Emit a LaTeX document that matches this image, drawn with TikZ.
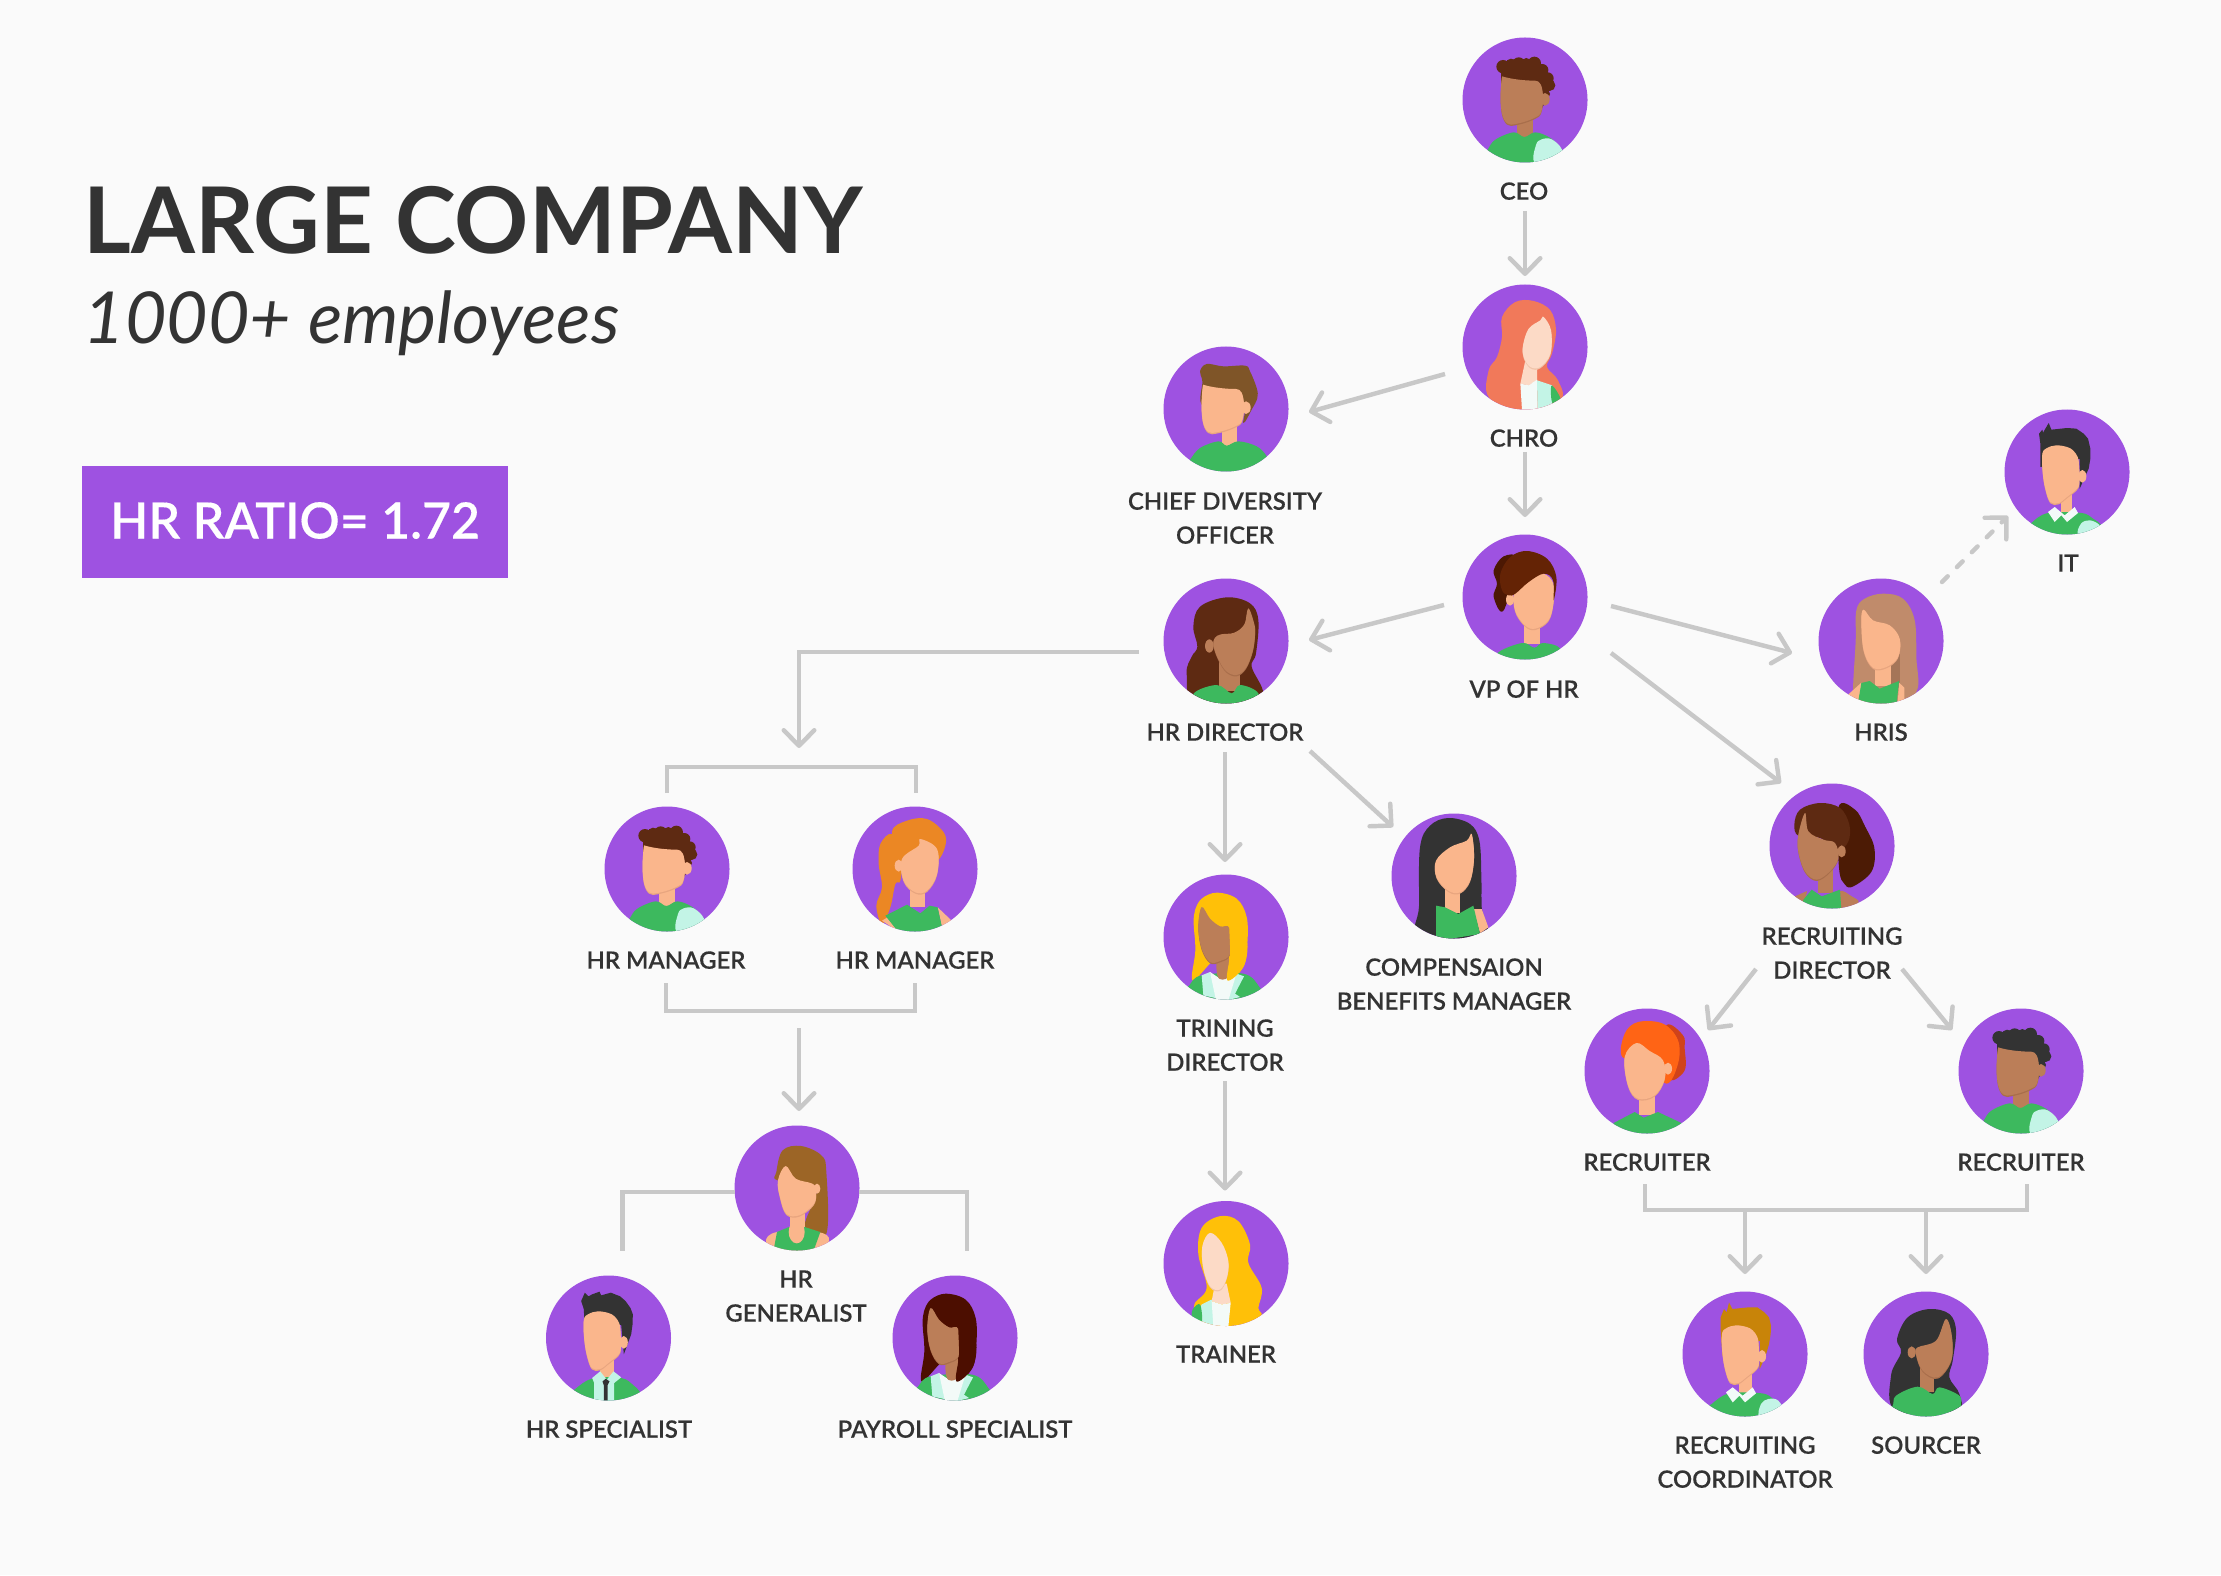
\documentclass[tikz,border=0pt]{standalone}
\usepackage{fontspec}
\setmainfont{Lato}
\newfontfamily\lmed[FakeBold=0.25]{Lato Semibold}
\usetikzlibrary{arrows.meta,calc}
\definecolor{bgc}{HTML}{FAFAFA}
\definecolor{purp}{HTML}{9E52E1}
\definecolor{grn}{HTML}{3DB95E}
\definecolor{mint}{HTML}{C3F4E6}
\definecolor{wht}{HTML}{F3FAF8}
\definecolor{ink}{HTML}{333333}
\definecolor{line}{HTML}{C8C8C8}
\definecolor{sk}{HTML}{FAB68C}
\definecolor{skS}{HTML}{E8A57F}
\definecolor{dk}{HTML}{BB7E58}
\definecolor{dkS}{HTML}{A86E4B}
\definecolor{pl}{HTML}{FCDAC6}
\definecolor{plS}{HTML}{F0C4AA}
\definecolor{chest}{HTML}{5E2A12}
\definecolor{coralh}{HTML}{F1795A}
\definecolor{hairb}{HTML}{7F5528}
\definecolor{bunc}{HTML}{4C1803}
\definecolor{vph}{HTML}{642305}
\definecolor{hrish}{HTML}{C08B6B}
\definecolor{hrisd}{HTML}{A57558}
\definecolor{gold}{HTML}{FFC008}
\definecolor{orh}{HTML}{EB8724}
\definecolor{hgen}{HTML}{9C6526}
\definecolor{payh}{HTML}{4C0E00}
\definecolor{ponyd}{HTML}{4C1B05}
\definecolor{orgd}{HTML}{D0431A}
\definecolor{orgh}{HTML}{FF6415}
\definecolor{hcoord}{HTML}{C88409}
\newcommand\blob[2]{\fill[#1] plot[smooth cycle,tension=.6] coordinates {#2};}
\newcommand\poly[2]{\fill[#1] plot[sharp cycle] coordinates {#2};}
\newcommand\fc[3]{\fill[#2,shift={(0,4)}] plot[smooth cycle,tension=.6] coordinates {#3};\fill[#1] plot[smooth cycle,tension=.6] coordinates {#3};}
% male face template: ear on the right
\newcommand\mface[2]{%
 \fill[#2,shift={(0,4)}] (-69,-71) .. controls (-40,-62) and (0,-58) .. (30,-58) .. controls (45,-58) and (52,-45) .. (54,-10) .. controls (54,20) and (50,40) .. (42,46) .. controls (20,60) and (-10,70) .. (-42,74) .. controls (-60,74) and (-70,50) .. (-72,20) .. controls (-75,-10) and (-72,-50) .. (-69,-71) -- cycle;
 \fill[#1] (-69,-71) .. controls (-40,-62) and (0,-58) .. (30,-58) .. controls (45,-58) and (52,-45) .. (54,-10) .. controls (54,20) and (50,40) .. (42,46) .. controls (20,60) and (-10,70) .. (-42,74) .. controls (-60,74) and (-70,50) .. (-72,20) .. controls (-75,-10) and (-72,-50) .. (-69,-71) -- cycle;
 \fill[#1] (60,-2) ellipse (14 and 19);}
% second male face: arched hairline
\newcommand\mfaceb{%
 \fc{sk}{skS}{(-74,-55)(-60,-72)(-32,-80)(0,-75)(18,-65)(32,-45)(36,-20)(37,30)(30,50)(0,75)(-25,93)(-50,90)(-65,50)(-73,0)}
 \fill[sk] (46,13) ellipse (12 and 19);}
\newcommand\mshirt{\blob{grn}{(-125,175)(-112,149)(-89,119)(-34,97)(-2,111)(31,97)(76,114)(111,149)(125,175)(0,210)}}
\newcommand\msleeve{\blob{mint}{(31,190)(33,135)(50,118)(80,118)(111,149)(115,200)}}
\newcommand\curly[1]{%
 \poly{#1}{(-72,-20)(-72,-105)(-40,-122)(28,-122)(72,-60)(64,0)(42,40)(30,-20)}
 \fill[#1] (-66,-100) circle (20) (-19,-108) circle (20) (28,-110) circle (20) (52,-90) circle (18) (68,-65) circle (18) (74,-44) circle (17) (60,-18) circle (15) (50,5) circle (13) (-42,-108) circle (16) (4,-110) circle (16);}
\newcommand\collar[1]{\poly{wht}{(-57,120)(-37,105)(-7,130)(23,105)(33,123)(0,150)(-17,130)(-37,150)}}
\newcommand\bobwoman[1]{%
 \blob{#1}{(-101,130)(-92,40)(-97,-40)(-93,-80)(-73,-115)(-28,-133)(32,-115)(62,-60)(64,20)(52,90)(4,130)(-20,60)(-48,80)}
 \blob{grn}{(-125,175)(-110,145)(-73,115)(52,110)(100,150)(110,190)(0,215)}
 \poly{mint}{(-73,115)(-48,105)(-23,185)(-68,175)}
 \poly{mint}{(32,110)(54,118)(27,170)(42,180)(2,190)(7,120)}
 \poly{wht}{(-48,105)(-18,125)(7,120)(32,108)(7,190)(-30,190)}
 \blob{dk}{(-26,60)(7,60)(7,115)(-10,128)(-26,115)}
 \fc{dk}{dkS}{(-73,-90)(-48,-55)(-18,-32)(10,-27)(12,50)(-18,72)(-48,75)(-73,35)(-83,-30)}
 \blob{#1}{(10,-27)(14,-30)(40,-30)(64,20)(52,90)(4,130)(12,50)}
 }
\newcommand\personav[4]{\node[av] (#1) at (#2,#3) {};\begin{scope}[shift={(#1.center)},scale=1/3]\clip (0,0) circle (187.5);#4\end{scope}}
\tikzset{
 av/.style={circle,fill=purp,inner sep=0pt,minimum size=45pt},
 lab/.style={inner sep=0pt,align=center,text=ink,yshift=-.4pt,font=\lmed\fontsize{8.6}{12.24}\selectfont},
 conn/.style={draw=line,line width=1.6pt},
 arr/.style={conn,-{Straight Barb[length=5.6pt,width=11pt,round]}}
}
\begin{document}
\begin{tikzpicture}[x=.36pt,y=-.36pt]
\useasboundingbox (0,0) rectangle (2221,1575);
\fill[bgc] (0,0) rectangle (2221,1575);
\node[anchor=base west,inner sep=0pt,text=ink,font=\bfseries\fontsize{33.1}{40}\selectfont] (title) at (83,254) {LARGE COMPANY};
\node[anchor=base west,inner sep=0pt,text=ink,font=\itshape\fontsize{25.8}{30}\selectfont] (sub) at (83,344) {1000+ employees};
\node[inner sep=0pt,fill=purp,minimum width=153.4pt,minimum height=40.3pt,text=white,font=\lmed\fontsize{18}{20}\selectfont] (ratio) at (295,522) {\raisebox{1.2pt}{HR RATIO= 1.72}};

\personav{ceo}{1525}{100}{%
 \poly{dk}{(-24,50)(23,50)(23,110)(-24,110)}\mshirt\msleeve\curly{chest}\mface{dk}{dkS}}
\personav{chro}{1525}{347}{%
 \blob{coralh}{(-109,70)(-84,30)(-69,-30)(-69,-90)(-29,-135)(26,-138)(76,-110)(93,-50)(81,20)(66,60)(99,100)(106,160)(-14,195)(-109,150)}
 \poly{pl}{(1,40)(36,40)(36,100)(11,115)(-14,110)}
 \poly{wht}{(-14,110)(11,115)(36,98)(38,190)(-9,190)}
 \poly{mint}{(36,100)(81,115)(81,170)(38,190)}
 \blob{grn}{(81,115)(106,155)(85,172)(78,145)}
 \fc{pl}{plS}{(-6,-5)(11,-55)(46,-80)(56,-90)(78,-50)(76,20)(46,60)(16,60)(-4,30)}}
\personav{chief}{1226}{409}{%
 \poly{sk}{(-13,50)(33,50)(33,110)(-13,110)}
 \blob{grn}{(-125,175)(-108,152)(-78,117)(-23,97)(2,110)(37,97)(92,112)(122,142)(130,175)(0,210)}
 \blob{hairb}{(-78,-113)(-58,-135)(-8,-128)(57,-130)(72,-113)(92,-63)(94,-33)(77,2)(52,42)(47,-8)(-68,-8)(-71,-83)}
 \begin{scope}[shift={(0,-2)}]\mface{sk}{skS}\end{scope}}
\personav{vp}{1525}{597}{%
 \blob{bunc}{(-94,-80)(-64,-122)(-24,-110)(-64,40)(-94,0)(-84,-40)}
 \poly{sk}{(-4,60)(44,60)(44,140)(-4,140)}
 \blob{grn}{(-84,170)(-9,138)(28,152)(54,138)(106,155)(100,210)(-60,210)}
 \fc{sk}{skS}{(-30,-20)(15,-55)(55,-70)(85,-40)(85,20)(70,70)(31,95)(0,85)(-30,40)}
 \fill[sk] (-45,8) ellipse (12 and 18);
 \blob{vph}{(-74,-70)(-44,-120)(6,-138)(66,-115)(94,-60)(86,10)(84,-50)(56,-70)(11,-45)(-29,-10)(-49,-5)(-69,-20)}}
\personav{hrd}{1226}{641}{%
 \blob{chest}{(-98,-43)(-78,-103)(2,-131)(72,-113)(97,-63)(90,37)(77,77)(110,147)(100,190)(-90,190)(-118,97)(-103,47)(-86,17)}
 \poly{dk}{(-21,60)(42,60)(42,150)(-21,150)}
 \blob{grn}{(-98,159)(-28,132)(17,157)(42,132)(97,157)(90,215)(-80,215)}
 \fc{dk}{dkS}{(-33,-10)(-15,-20)(25,-25)(55,-50)(67,-98)(85,-50)(87,-20)(80,30)(60,80)(32,102)(0,90)(-25,50)(-38,10)}
 \fill[dk] (-50,15) ellipse (13 and 20);}
\personav{hris}{1881}{641}{%
 \blob{hrish}{(-84,158)(-76,0)(-74,-92)(-49,-127)(6,-142)(66,-127)(101,-62)(106,50)(108,148)(46,190)(-70,180)}
 \fill[hrisd] (25,40) rectangle (58,140);
 \poly{sk}{(-19,60)(31,60)(31,135)(-19,135)}
 \poly{sk}{(-100,162)(-59,125)(-50,185)}
 \poly{sk}{(54,125)(70,140)(70,190)(50,190)}
 \poly{grn}{(-59,126)(-34,120)(-4,143)(54,120)(46,195)(-69,185)}
 \fc{sk}{skS}{(-59,-62)(-52,-94)(-24,-62)(26,-47)(56,-7)(51,48)(16,78)(-24,80)(-52,28)}}
\personav{it}{2067}{472}{%
 \poly{sk}{(-17,60)(15,60)(15,125)(-17,125)}
 \blob{grn}{(-125,180)(-107,153)(-57,123)(43,123)(78,140)(103,160)(110,190)(0,215)}
 \blob{mint}{(36,190)(42,155)(68,145)(98,160)(110,195)}
 \collar{}
 \poly{ink}{(-84,-115)(-74,-127)(-72,-118)(-55,-147)(-47,-127)(0,-132)(28,-130)(50,-115)(63,-100)(70,-70)(70,-40)(65,-10)(58,5)(38,50)(38,-40)(-80,-15)(-80,-85)}
 \mfaceb}
\personav{comp}{1454}{876}{%
 \blob{ink}{(-102,-86)(-72,-151)(-17,-174)(48,-156)(76,-106)(82,0)(83,94)(90,190)(-107,190)(-105,90)}
 \poly{sk}{(58,99)(83,99)(103,154)(78,172)}
 \poly{sk}{(-27,30)(18,30)(18,110)(-27,110)}
 \poly{grn}{(-54,89)(-27,94)(13,114)(58,89)(78,174)(-54,195)}
 \fc{sk}{skS}{(-54,-46)(-12,-86)(38,-106)(53,-126)(60,-56)(48,14)(18,49)(-17,44)(-52,4)}}
\personav{trin}{1226}{937}{\bobwoman{gold}}
\personav{trainer}{1226}{1263.5}{%
 \blob{gold}{(-95,123)(-58,73)(-83,-27)(-73,-107)(-18,-142)(37,-127)(72,-57)(67,-2)(107,73)(97,133)(102,158)(7,195)(-80,170)}
 \poly{pl}{(-33,60)(2,60)(14,118)(-13,123)(-43,113)}
 \poly{mint}{(-43,108)(-33,190)(-98,170)(-73,123)}
 \poly{wht}{(-43,113)(-13,123)(14,118)(7,190)(-38,190)}
 \blob{grn}{(-78,123)(-73,175)(-100,165)(-100,138)}
 \fc{pl}{plS}{(-71,-52)(-48,-92)(-13,-62)(7,-7)(2,43)(-18,78)(-48,68)(-68,13)}}
\personav{m1}{667}{869}{%
 \poly{sk}{(-24,50)(23,50)(23,110)(-24,110)}\mshirt\msleeve\curly{chest}\mface{sk}{skS}}
\personav{m2}{915}{869}{%
 \blob{orh}{(-69,-105)(-104,-75)(-109,-15)(-99,55)(-116,110)(-99,165)(-74,115)(-59,45)(-44,35)(-40,-40)}
 \blob{orh}{(-69,-110)(-24,-145)(36,-150)(86,-110)(91,-70)(66,-25)(20,-40)(-30,-10)}
 \poly{sk}{(-14,31)(31,31)(31,115)(-14,115)}
 \poly{sk}{(-99,155)(-74,140)(-47,190)}
 \poly{sk}{(68,115)(110,155)(81,175)}
 \poly{grn}{(-89,140)(-24,107)(16,133)(44,110)(68,115)(81,175)(40,195)(-49,190)}
 \fc{sk}{skS}{(-39,-30)(11,-70)(16,-90)(66,-60)(66,15)(36,65)(1,70)(-34,35)}
 \fill[sk] (-49,-10) ellipse (12 and 18);}
\personav{gen}{797}{1188}{%
 \blob{hgen}{(-62,-48)(-43,-113)(12,-126)(73,-98)(88,-48)(88,137)(23,117)(57,-3)(-58,-23)}
 \poly{sk}{(-21,40)(23,40)(23,125)(-21,125)}
 \blob{sk}{(-93,162)(-60,132)(62,132)(96,157)(50,205)(-50,205)}
 \poly{grn}{(-60,132)(-24,117)(23,117)(70,132)(49,190)(-71,190)}
 \fill[sk] (-1,132) ellipse (24 and 34);
 \fc{sk}{skS}{(-57,-23)(-34,-66)(-4,-28)(46,-13)(57,7)(51,47)(7,82)(-32,77)(-51,27)}
 \fill[sk] (60,2) ellipse (10 and 15);}
\personav{spec}{608.5}{1338}{%
 \poly{sk}{(-27,40)(15,40)(15,120)(-27,120)}
 \blob{grn}{(-125,180)(-101,154)(-49,122)(38,120)(75,142)(97,165)(110,190)(0,215)}
 \poly{mint}{(-49,120)(-25,100)(-5,125)(15,100)(38,118)(17,135)(17,200)(-43,200)(-43,135)}
 \poly{ink}{(-18,130)(-8,122)(3,130)(-3,142)(-3,200)(-14,200)(-14,142)}
 \poly{ink}{(-82,-111)(-71,-136)(-60,-125)(-49,-131)(-27,-139)(-22,-128)(7,-136)(35,-125)(51,-111)(66,-90)(73,-71)(72,-40)(68,-11)(46,49)(38,-40)(-71,-11)(-74,-86)}
 \mfaceb}
\personav{pay}{955}{1338}{\bobwoman{payh}}
\personav{recd}{1832}{846}{%
 \blob{ponyd}{(19,-116)(69,-109)(99,-59)(127,6)(119,76)(64,121)(39,116)(21,66)}
 \poly{dk}{(-41,60)(4,60)(4,140)(-41,140)}
 \poly{dk}{(-111,151)(-75,135)(-86,195)}
 \blob{dk}{(24,136)(59,151)(79,170)(24,195)}
 \poly{grn}{(-86,161)(-61,131)(-31,151)(24,131)(28,195)(-90,195)}
 \blob{chest}{(-113,-64)(-96,-109)(-36,-129)(24,-114)(52,-64)(49,-14)(19,11)(-36,-24)(-100,-30)}
 \fc{dk}{dkS}{(-101,-34)(-81,-99)(-71,-44)(-26,-19)(9,-9)(19,36)(-6,76)(-46,101)(-81,76)(-101,16)}
 \fill[dk] (29,16) ellipse (12 and 18);}
\personav{rl}{1647}{1071}{%
 \blob{orgd}{(58,-137)(108,-107)(113,-67)(113,-2)(68,28)(40,-30)}
 \blob{orgh}{(-74,-42)(-67,-112)(-27,-147)(48,-142)(93,-92)(93,-22)(58,38)(0,-30)}
 \poly{sk}{(-25,60)(23,60)(23,133)(-25,133)}
 \poly{grn}{(-100,156)(-37,123)(-10,140)(33,123)(103,156)(103,200)(-100,200)}
 \fc{sk}{skS}{(-67,-42)(-32,-84)(8,-60)(48,-32)(53,23)(23,73)(-27,83)(-57,43)}
 \fill[sk] (63,-7) ellipse (12 and 18);}
\personav{rr}{2021}{1071}{%
 \poly{dk}{(-24,50)(23,50)(23,110)(-24,110)}\mshirt\msleeve\curly{ink}\mface{dk}{dkS}}
\personav{coord}{1745}{1354}{%
 \poly{sk}{(-17,60)(20,60)(20,125)(-17,125)}
 \blob{grn}{(-125,180)(-100,150)(-47,118)(50,118)(85,135)(110,160)(120,190)(0,215)}
 \blob{mint}{(45,190)(48,150)(70,135)(100,140)(115,180)}
 \begin{scope}[shift={(0,-5)}]\collar{}\end{scope}
 \poly{hcoord}{(-73,-110)(-63,-135)(-55,-125)(-48,-155)(-38,-135)(10,-140)(37,-140)(58,-125)(72,-110)(78,-85)(77,-60)(72,-30)(62,5)(44,45)(45,-40)(-68,5)(-73,-70)}
 \begin{scope}[shift={(5,-6)}]\mfaceb\end{scope}}
\personav{src}{1926}{1354}{%
 \blob{ink}{(-87,-45)(-55,-110)(10,-135)(70,-120)(90,-70)(80,20)(70,70)(100,120)(90,170)(-90,170)(-105,65)(-75,-5)}
 \poly{dk}{(-17,30)(25,30)(25,115)(-17,115)}
 \blob{grn}{(-125,180)(-100,155)(-90,125)(-25,98)(20,120)(40,100)(100,125)(105,155)(110,190)(0,215)}
 \fc{dk}{dkS}{(-25,-20)(30,-40)(60,-105)(78,-50)(75,20)(35,70)(-10,50)(-30,0)}
 \fill[dk] (-43,-5) ellipse (12 and 18);}

\node[lab] (lceo) at (1524,190) {CEO};
\node[lab] (lchro) at (1524,437) {CHRO};
\node[lab] (lchief) at (1225,517) {CHIEF DIVERSITY\\OFFICER};
\node[lab] (lvp) at (1524,688) {VP OF HR};
\node[lab] (lhrd) at (1225,731) {HR DIRECTOR};
\node[lab] (lhris) at (1881,731) {HRIS};
\node[lab] (lit) at (2068,562) {IT};
\node[lab] (lm1) at (666,959) {HR MANAGER};
\node[lab] (lm2) at (915,959) {HR MANAGER};
\node[lab] (lrecd) at (1832,952) {RECRUITING\\DIRECTOR};
\node[lab] (lcomp) at (1454,983) {COMPENSAION\\BENEFITS MANAGER};
\node[lab] (ltrin) at (1225,1044) {TRINING\\DIRECTOR};
\node[lab] (ltrainer) at (1226,1353) {TRAINER};
\node[lab] (lgen) at (796,1295) {HR\\GENERALIST};
\node[lab] (lspec) at (609,1428) {HR SPECIALIST};
\node[lab] (lpay) at (955,1428) {PAYROLL SPECIALIST};
\node[lab] (lrl) at (1647,1161) {RECRUITER};
\node[lab] (lrr) at (2021,1161) {RECRUITER};
\node[lab] (lcoord) at (1745,1461) {RECRUITING\\COORDINATOR};
\node[lab] (lsrc) at (1926,1444) {SOURCER};

\draw[arr] ($(ceo)+(0,111)$) -- ($(chro)+(0,-71)$);
\draw[arr] ($(chro)+(-80,27)$) -- ($(chief)+(83,3)$);
\draw[arr] ($(chro)+(0,105)$) -- ($(vp)+(0,-80)$);
\draw[arr] ($(vp)+(-81,8)$) -- ($(hrd)+(83,-1)$);
\draw[arr] ($(vp)+(86,9)$) -- ($(hris)+(-89,12)$);
\draw[arr] ($(vp)+(86,56)$) -- ($(recd)+(-51,-63)$);
\draw[arr,dash pattern=on 2.9pt off 4.7pt,line cap=round] ($(hris)+(61,-59)$) -- ($(it)+(-59,44)$);
\coordinate (mgrs) at (799,748);
\draw[conn,-{Straight Barb[length=5.6pt,width=11pt,round]}] ($(hrd)+(-87,11)$) -| (mgrs);
\draw[conn] ($(m1)+(0,-76)$) |- ($(m2)+(1,-102)$) -- ($(m2)+(1,-76)$);
\draw[conn] ($(m1)+(-1,114)$) |- ($(m2)+(0,142)$) -- ($(m2)+(0,114)$);
\draw[arr] ($(gen)+(2,-160)$) -- ($(gen)+(2,-77)$);
\draw[conn] ($(gen)+(-62,4)$) -| ($(spec)+(14,-87)$);
\draw[conn] ($(gen)+(62,4)$) -| ($(pay)+(12,-87)$);
\draw[arr] ($(hrd)+(-1,111)$) -- ($(trin)+(-1,-75)$);
\draw[arr] ($(hrd)+(84,110)$) -- ($(comp)+(-61,-49)$);
\draw[arr] ($(trin)+(-1,144)$) -- ($(trainer)+(-1,-73)$);
\draw[arr] ($(recd)+(-76,123)$) -- ($(rl)+(61,-41)$);
\draw[arr] ($(recd)+(70,123)$) -- ($(rr)+(-69,-41)$);
\draw[conn] ($(rl)+(-2,113)$) |- ($(rr)+(6,139)$) -- ($(rr)+(6,113)$);
\draw[arr] ($(coord)+(0,-145)$) -- ($(coord)+(0,-80)$);
\draw[arr] ($(src)+(0,-145)$) -- ($(src)+(0,-80)$);
\end{tikzpicture}
\end{document}
